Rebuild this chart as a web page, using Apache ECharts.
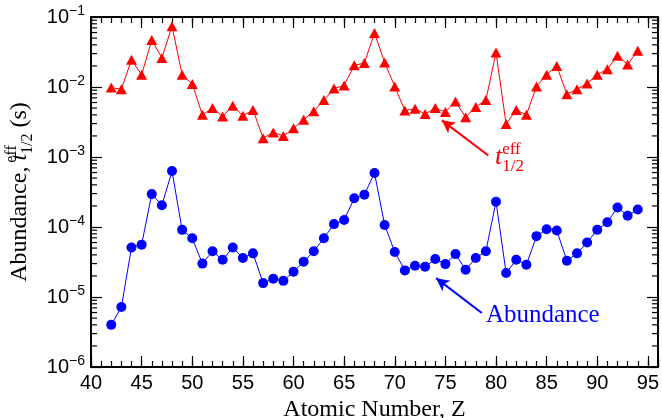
<!DOCTYPE html>
<html><head><meta charset="utf-8">
<script src="https://cdn.jsdelivr.net/npm/echarts@6/dist/echarts.min.js"></script>
<style>html,body{margin:0;padding:0;background:#fff}#c{width:662px;height:418px}</style>
</head><body><div id="c"></div>
<script>
// ---- data ----
const atomicNumber = [42,43,44,45,46,47,48,49,50,51,52,53,54,55,56,57,58,59,60,61,62,63,64,65,66,67,68,
  69,70,71,72,73,74,75,76,77,78,79,80,81,82,83,84,85,86,87,88,89,90,91,92,93,94];
const halfLifeEff = [9.8e-3,9.3e-3,2.45e-2,1.5e-2,4.7e-2,2.6e-2,7.4e-2,1.5e-2,1.1e-2,4.0e-3,5.0e-3,3.8e-3,5.4e-3,3.9e-3,4.7e-3,
  1.86e-3,2.24e-3,2.0e-3,2.57e-3,3.4e-3,4.5e-3,6.5e-3,9.5e-3,1.05e-2,2.04e-2,2.2e-2,5.9e-2,
  2.24e-2,1.02e-2,4.6e-3,4.9e-3,4.1e-3,5.0e-3,4.4e-3,6.2e-3,3.7e-3,5.2e-3,6.5e-3,3.1e-2,2.95e-3,4.7e-3,4.0e-3,
  1.02e-2,1.5e-2,2.0e-2,7.9e-3,9.3e-3,1.12e-2,1.5e-2,1.8e-2,2.8e-2,2.1e-2,3.3e-2];
const abundance = [4.0e-6,7.2e-6,5.1e-5,5.6e-5,2.95e-4,2.04e-4,6.3e-4,9.1e-5,6.9e-5,3.0e-5,4.5e-5,3.4e-5,5.1e-5,3.6e-5,4.2e-5,
  1.58e-5,1.82e-5,1.7e-5,2.3e-5,3.2e-5,4.5e-5,6.9e-5,1.1e-4,1.26e-4,2.57e-4,2.9e-4,5.9e-4,
  1.07e-4,4.4e-5,2.4e-5,2.8e-5,2.7e-5,3.5e-5,2.95e-5,4.1e-5,2.45e-5,3.6e-5,4.5e-5,2.3e-4,2.2e-5,3.4e-5,2.9e-5,
  7.4e-5,9.3e-5,8.9e-5,3.3e-5,4.2e-5,6.0e-5,9.1e-5,1.17e-4,1.9e-4,1.45e-4,1.78e-4];
const xTickLabels = [40,45,50,55,60,65,70,75,80,85,90,95];
const logDecades = [-6,-5,-4,-3,-2];
const minorMantissas = [2,3,4,5,6,7,8,9];

// ---- build ----
const minorLogTicks = [];
logDecades.forEach(e => minorMantissas.forEach(m => minorLogTicks.push([40, m * Math.pow(10, e)])));
const redPts = atomicNumber.map((z, i) => [z, halfLifeEff[i]]);
const bluePts = atomicNumber.map((z, i) => [z, abundance[i]]);

const SERIF = 'Liberation Serif';
const SANS = 'Liberation Sans';
const XMIN = 40, XMAX = 96;

const baseX = {type:'value', min:XMIN, max:XMAX, splitLine:{show:false}};
const chart = echarts.init(document.getElementById('c'), null, {renderer:'canvas'});
chart.setOption({
  animation:false,
  backgroundColor:'#fff',
  grid:{left:91, right:4, top:17, bottom:51, containLabel:false, outerBoundsMode:'none'},
  xAxis:[
    Object.assign({}, baseX, {
      position:'bottom', interval:1,
      axisLine:{show:true, onZero:false, lineStyle:{color:'#000', width:2}},
      axisTick:{show:true, inside:true, length:6, lineStyle:{color:'#000', width:1.2}},
      axisLabel:{show:true, interval:0, margin:6, color:'#000', fontFamily:SANS, fontSize:20,
        formatter: v => xTickLabels.indexOf(v) >= 0 ? String(v) : ''},
      name:'Atomic Number, Z', nameLocation:'middle', nameGap:25,
      nameTextStyle:{color:'#000', fontFamily:SERIF, fontSize:24}
    }),
    Object.assign({}, baseX, {
      position:'bottom', interval:5,
      axisLine:{show:false, onZero:false},
      axisTick:{show:true, inside:true, length:11, lineStyle:{color:'#000', width:1.2}},
      axisLabel:{show:false}
    }),
    Object.assign({}, baseX, {
      position:'top', interval:1,
      axisLine:{show:true, onZero:false, lineStyle:{color:'#000', width:2}},
      axisTick:{show:true, inside:true, length:6, lineStyle:{color:'#000', width:1.2}},
      axisLabel:{show:false}
    }),
    Object.assign({}, baseX, {
      position:'top', interval:5,
      axisLine:{show:false, onZero:false},
      axisTick:{show:true, inside:true, length:11, lineStyle:{color:'#000', width:1.2}},
      axisLabel:{show:false}
    })
  ],
  yAxis:[
    {
      type:'log', logBase:10, min:1e-6, max:1e-1, position:'left',
      splitLine:{show:false},
      axisLine:{show:true, onZero:false, lineStyle:{color:'#000', width:2}},
      axisTick:{show:true, inside:true, length:11, lineStyle:{color:'#000', width:1.2}},
      axisLabel:{show:true, margin:6, color:'#000',
        formatter: v => '{b|10}{s|\u2212' + Math.abs(Math.round(Math.log10(v))) + '}',
        rich:{
          b:{fontFamily:SANS, fontSize:20, lineHeight:26, color:'#000'},
          s:{fontFamily:SANS, fontSize:14, lineHeight:14, verticalAlign:'top', color:'#000'}
        }
      },
      name:'{n|Abundance, }{t|t}{sup|eff}{sub|1/2}{n| (s)}',
      nameLocation:'middle', nameGap:50,
      nameTextStyle:{
        color:'#000',
        rich:{
          n:{fontFamily:SERIF, fontSize:24, lineHeight:32, color:'#000'},
          t:{fontFamily:SERIF, fontStyle:'italic', fontSize:24, lineHeight:32, color:'#000'},
          sup:{fontFamily:SERIF, fontSize:16, lineHeight:16, verticalAlign:'top', width:0, color:'#000'},
          sub:{fontFamily:SERIF, fontSize:16, lineHeight:16, verticalAlign:'bottom', color:'#000'}
        }
      }
    },
    {
      type:'log', logBase:10, min:1e-6, max:1e-1, position:'right',
      splitLine:{show:false},
      axisLine:{show:true, onZero:false, lineStyle:{color:'#000', width:2}},
      axisTick:{show:true, inside:true, length:11, lineStyle:{color:'#000', width:1.2}},
      axisLabel:{show:false}
    }
  ],
  series:[
    {
      name:'minorLogTicks', type:'custom', xAxisIndex:0, yAxisIndex:0, silent:true, clip:false,
      data:minorLogTicks,
      renderItem:(params, api) => {
        const cs = params.coordSys;
        const y = api.coord([api.value(0), api.value(1)])[1];
        return {type:'group', children:[
          {type:'line', shape:{x1:cs.x, y1:y, x2:cs.x + 6, y2:y}, style:{stroke:'#000', lineWidth:1.2}},
          {type:'line', shape:{x1:cs.x + cs.width, y1:y, x2:cs.x + cs.width - 6, y2:y}, style:{stroke:'#000', lineWidth:1.2}}
        ]};
      }
    },
    {
      name:'t1/2 eff', type:'line', xAxisIndex:0, yAxisIndex:0, data:redPts,
      symbol:'triangle', symbolSize:[11,10], showAllSymbol:true,
      lineStyle:{color:'#ff0000', width:1}, itemStyle:{color:'#ff0000'},
      markLine:{silent:true, symbol:['none','arrow'], symbolSize:[10,13],
        lineStyle:{color:'#ff0000', width:2, type:'solid'}, label:{show:false},
        data:[[{coord:[79.25, 1.05e-3]}, {coord:[74.65, 3.34e-3]}]]},
      markPoint:{silent:true, symbol:'circle', symbolSize:0,
        data:[{coord:[79.9, 9.8e-4], value:''}],
        label:{show:true, position:'right', distance:0,
          formatter:'{t|t}{sup|eff}{sub|1/2}',
          rich:{
            t:{fontFamily:SERIF, fontStyle:'italic', fontSize:26, lineHeight:34, color:'#ff0000'},
            sup:{fontFamily:SERIF, fontSize:17, lineHeight:17, verticalAlign:'top', width:0, color:'#ff0000'},
            sub:{fontFamily:SERIF, fontSize:17, lineHeight:17, verticalAlign:'bottom', color:'#ff0000'}
          }}}
    },
    {
      name:'Abundance', type:'line', xAxisIndex:0, yAxisIndex:0, data:bluePts,
      symbol:'circle', symbolSize:10, showAllSymbol:true,
      lineStyle:{color:'#0000ff', width:1}, itemStyle:{color:'#0000ff'},
      markLine:{silent:true, symbol:['none','arrow'], symbolSize:[10,13],
        lineStyle:{color:'#0000ff', width:2, type:'solid'}, label:{show:false},
        data:[[{coord:[78.6, 5.9e-6]}, {coord:[74.09, 1.86e-5]}]]},
      markPoint:{silent:true, symbol:'circle', symbolSize:0,
        data:[{coord:[79.0, 5.4e-6], value:''}],
        label:{show:true, position:'right', distance:0, formatter:'Abundance',
          fontFamily:SERIF, fontSize:25, color:'#0000ff'}}
    }
  ]
});
</script>
</body></html>
